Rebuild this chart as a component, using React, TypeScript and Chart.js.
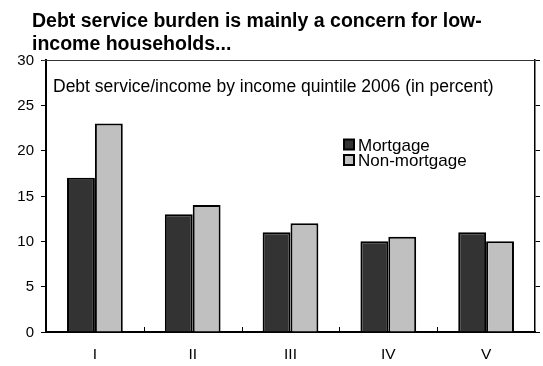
import React, { useEffect, useRef } from "react";
import { Chart, registerables } from "chart.js";

Chart.register(...registerables);

const categories = ["I", "II", "III", "IV", "V"];
const mortgage = [17, 13, 11, 10, 11];
const nonMortgage = [23, 14, 12, 10.5, 10];
const seriesNames = ["Mortgage", "Non-mortgage"];
const seriesColors = ["#333333", "#c0c0c0"];
const titleLines = ["Debt service burden is mainly a concern for low-", "income households..."];
const subtitle = "Debt service/income by income quintile 2006 (in percent)";
const yTicks = [0, 5, 10, 15, 20, 25, 30];
const yMin = 0;
const yMax = 30;
const yStep = 5;

const FONT = "'Liberation Sans', Arial, sans-serif";

const decorPlugin = {
  id: "decor",
  afterDraw(chart: any) {
    const ctx = chart.ctx;
    const area = chart.chartArea;
    const xs = chart.scales.x;
    const ysc = chart.scales.y;
    ctx.save();
    // top border
    ctx.strokeStyle = "#333";
    ctx.lineWidth = 1;
    ctx.beginPath();
    ctx.moveTo(area.left - 4, area.top + 0.5);
    ctx.lineTo(area.right, area.top + 0.5);
    ctx.stroke();
    // category boundary ticks (inward)
    ctx.strokeStyle = "#000";
    for (let i = 1; i < categories.length; i++) {
      const x = Math.round((xs.getPixelForValue(i - 1) + xs.getPixelForValue(i)) / 2) + 0.5;
      ctx.beginPath();
      ctx.moveTo(x, area.bottom);
      ctx.lineTo(x, area.bottom - 5);
      ctx.stroke();
    }
    ctx.fillStyle = "#000";
    // y tick labels
    ctx.font = `15px ${FONT}`;
    ctx.textAlign = "right";
    ctx.textBaseline = "middle";
    for (const v of yTicks) {
      ctx.fillText(String(v), 34, ysc.getPixelForValue(v) + 0.5);
    }
    // x tick labels
    ctx.font = `15.5px ${FONT}`;
    ctx.textAlign = "center";
    ctx.textBaseline = "alphabetic";
    categories.forEach((c, i) => {
      ctx.fillText(c, xs.getPixelForValue(i), 359);
    });
    // title
    ctx.textAlign = "left";
    ctx.font = `bold 19.5px ${FONT}`;
    ctx.fillText(titleLines[0], 32, 27);
    ctx.fillText(titleLines[1], 32, 50);
    // subtitle
    ctx.font = `17.5px ${FONT}`;
    ctx.fillText(subtitle, 53, 91.5);
    // legend
    ctx.font = `17px ${FONT}`;
    const base = [150.5, 166];
    for (let i = 0; i < seriesNames.length; i++) {
      const top = base[i] - 11;
      ctx.fillStyle = seriesColors[i];
      ctx.fillRect(344, top, 10, 10);
      ctx.strokeStyle = "#000";
      ctx.lineWidth = 2;
      ctx.strokeRect(344, top, 10, 10);
      ctx.fillStyle = "#000";
      ctx.fillText(seriesNames[i], 358, base[i]);
    }
    ctx.restore();
  },
};

export default function App() {
  const ref = useRef<HTMLCanvasElement | null>(null);
  useEffect(() => {
    if (!ref.current) return;
    Chart.defaults.font.family = FONT;
    const chart = new Chart(ref.current, {
      type: "bar",
      data: {
        labels: categories,
        datasets: [
          {
            label: seriesNames[0],
            data: mortgage,
            backgroundColor: seriesColors[0],
            borderColor: "#000",
            borderWidth: 2,
            categoryPercentage: 0.57,
            barPercentage: 1,
          },
          {
            label: seriesNames[1],
            data: nonMortgage,
            backgroundColor: seriesColors[1],
            borderColor: "#000",
            borderWidth: 2,
            categoryPercentage: 0.57,
            barPercentage: 1,
          },
        ],
      },
      options: {
        animation: false,
        responsive: false,
        layout: { padding: { top: 60, left: 0, right: 0, bottom: 0 } },
        plugins: { legend: { display: false }, title: { display: false }, tooltip: { enabled: false } },
        scales: {
          x: {
            grid: { display: false, drawTicks: false },
            border: { display: true, color: "#000", width: 2 },
            ticks: { display: false },
            afterFit: (s: any) => {
              s.height = 34;
            },
          },
          y: {
            min: yMin,
            max: yMax,
            ticks: { stepSize: yStep, display: false },
            grid: { drawOnChartArea: false, color: "#000", tickLength: 5, lineWidth: 1 },
            border: { display: true, color: "#000", width: 2 },
            afterFit: (s: any) => {
              s.width = 46;
            },
          },
          y2: {
            position: "right",
            min: yMin,
            max: yMax,
            ticks: { stepSize: yStep, display: false },
            grid: { drawOnChartArea: false, color: "#000", tickLength: 5, lineWidth: 1 },
            border: { display: true, color: "#000", width: 1.5 },
            afterFit: (s: any) => {
              s.width = 8;
            },
          },
        },
      },
      plugins: [decorPlugin],
    } as any);
    return () => chart.destroy();
  }, []);
  return (
    <div style={{ position: "fixed", left: 0, top: 0, width: 543, height: 366, background: "#fff" }}>
      <canvas ref={ref} width={543} height={366} style={{ width: 543, height: 366 }} />
    </div>
  );
}
